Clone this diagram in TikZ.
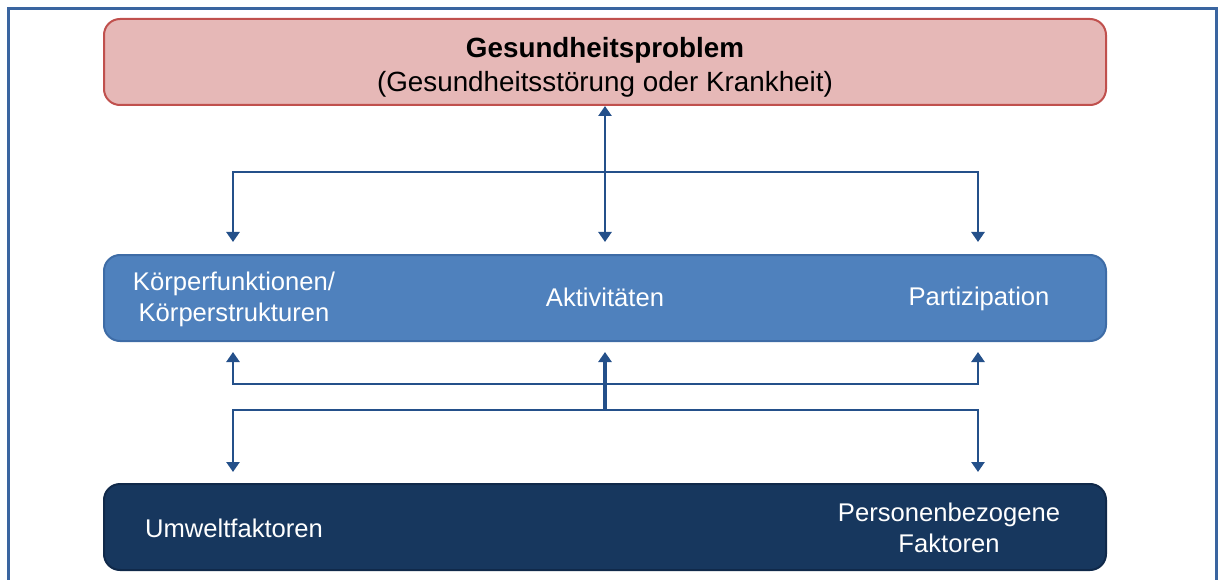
\documentclass[tikz,border=0pt]{standalone}
\usepackage{fontspec}
\setmainfont{Liberation Sans}
\usetikzlibrary{arrows.meta}
\definecolor{rahmen}{HTML}{3A65A0}
\definecolor{rotfill}{HTML}{E6B8B7}
\definecolor{rotrand}{HTML}{C0504D}
\definecolor{blaufill}{HTML}{4F81BD}
\definecolor{blaurand}{HTML}{3E6CA6}
\definecolor{dunkelfill}{HTML}{17375E}
\definecolor{dunkelrand}{HTML}{10294A}
\definecolor{pfeil}{HTML}{24508A}

\begin{document}
\begin{tikzpicture}[x=1pt,y=-1pt,
    box/.style={rounded corners=16pt,line width=2pt,minimum width=1002pt,minimum height=86pt,inner sep=0pt},
    label/.style={align=center,font=\fontsize{25.6}{31}\selectfont},
    pfeil/.style={-{Triangle[length=10pt,width=13pt]},line width=2.9pt,draw=pfeil}]
    \useasboundingbox (0,0) rectangle (1218,580);
    \draw[rahmen,line width=3pt] (8,600) -- (8,9) -- (1216,9) -- (1216,600);
    \node[box,fill=rotfill,draw=rotrand] (problem) at (605,62) {};
    \node[box,fill=blaufill,draw=blaurand] (funktion) at (605,298) {};
    \node[box,fill=dunkelfill,draw=dunkelrand] (kontext) at (605,527) {};
    \node[label,font=\fontsize{27.8}{34}\selectfont] (gp) at (605,67)
        {\textbf{Gesundheitsproblem}\\(Gesundheitsstörung oder Krankheit)};
    \node[label,text=white] (kf) at (234,299) {Körperfunktionen/\\Körperstrukturen};
    \node[label,text=white] (akt) at (605,297) {Aktivitäten};
    \node[label,text=white] (part) at (979,299) {Partizipation};
    \node[label,text=white] (umw) at (234,528) {Umweltfaktoren};
    \node[label,text=white] (pers) at (949,528) {Personenbezogene\\Faktoren};
    \coordinate (h1) at (605,172);
    \coordinate (k1) at (233,242);
    \coordinate (a1) at (605,242);
    \coordinate (p1) at (978,242);
    \coordinate (m1) at (605,384);
    \coordinate (k2) at (233,352);
    \coordinate (a2) at (605,352);
    \coordinate (p2) at (978,352);
    \coordinate (m2) at (605,410);
    \coordinate (u1) at (233,472);
    \coordinate (e1) at (978,472);
    \draw[pfeil,{Triangle[length=10pt,width=13pt]}-{Triangle[length=10pt,width=13pt]}] (problem.south) -- (a1);
    \draw[pfeil] (h1) -| (k1);
    \draw[pfeil] (h1) -| (p1);
    \draw[pfeil] (m1) -| (k2);
    \draw[pfeil] (m1) -| (p2);
    \draw[pfeil,line width=3.6pt] (m2) -- (a2);
    \draw[pfeil] (m2) -| (u1);
    \draw[pfeil] (m2) -| (e1);
\end{tikzpicture}
\end{document}
